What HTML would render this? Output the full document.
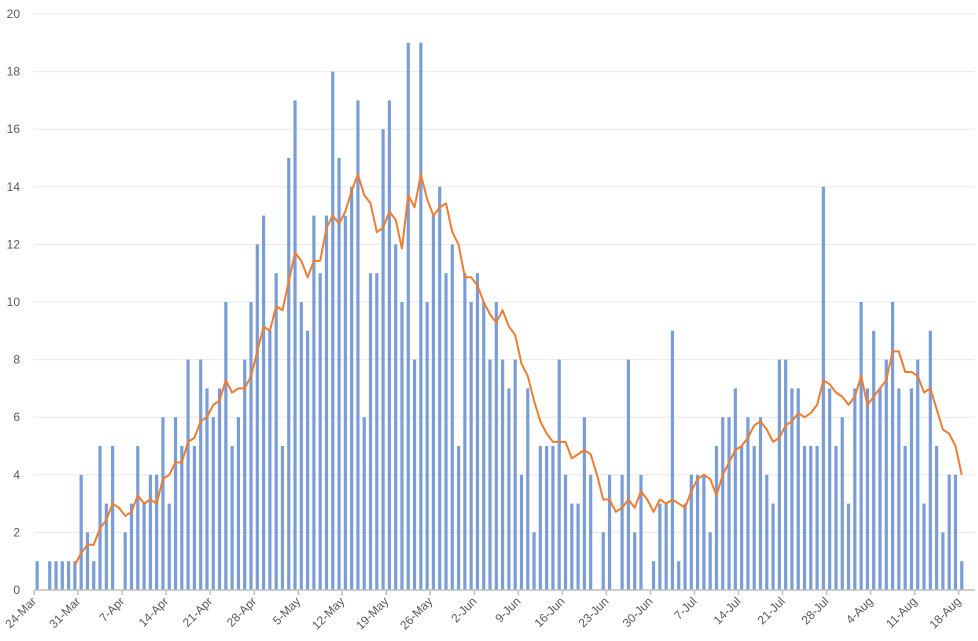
<!DOCTYPE html>
<html><head><meta charset="utf-8"><style>
body{margin:0;background:#fff;}
svg{display:block;font-family:"Liberation Sans",sans-serif;}
</style></head><body>
<svg id="chart" width="978" height="641" viewBox="0 0 978 641" xmlns="http://www.w3.org/2000/svg">
<g id="grid"></g>
<g id="yaxis"></g>
<g id="bars"></g>
<g id="line"></g>
<g id="xaxis"></g>
</svg>
<script>
const dailyCases = [1,0,1,1,1,1,1,4,2,1,5,3,5,0,2,3,5,3,4,4,6,3,6,5,8,5,8,7,6,7,10,5,6,8,10,12,13,9,11,5,15,17,10,9,13,11,13,18,15,13,14,17,6,11,11,16,17,12,10,19,8,19,10,13,14,11,12,5,11,10,11,10,8,10,8,7,8,4,7,2,5,5,5,8,4,3,3,6,4,0,2,4,0,4,8,2,4,0,1,3,3,9,1,3,4,4,4,2,5,6,6,7,5,6,5,6,4,3,8,8,7,7,5,5,5,14,7,5,6,3,7,10,7,9,7,8,10,7,5,7,8,3,9,5,2,4,4,1];
const tickLabels = ["24-Mar","31-Mar","7-Apr","14-Apr","21-Apr","28-Apr","5-May","12-May","19-May","26-May","2-Jun","9-Jun","16-Jun","23-Jun","30-Jun","7-Jul","14-Jul","21-Jul","28-Jul","4-Aug","11-Aug","18-Aug"];
const yTicks = [0,2,4,6,8,10,12,14,16,18,20];
const avgWindow = 7;

const NS="http://www.w3.org/2000/svg";
const plotLeft=34, plotRight=975, plotBottom=590, plotTop=14, yMax=20, cw=6.29;
const yS=v=>plotBottom-(plotBottom-plotTop)*v/yMax;
const xc=i=>plotLeft+cw*(i+0.5);
const xt=i=>plotLeft+cw*i;
function mk(tag,attrs,parent){const e=document.createElementNS(NS,tag);for(const k in attrs)e.setAttribute(k,attrs[k]);parent.appendChild(e);return e;}
const gridG=document.getElementById('grid'),yaG=document.getElementById('yaxis'),barsG=document.getElementById('bars'),lineG=document.getElementById('line'),xaG=document.getElementById('xaxis');
yTicks.forEach(v=>{
  if(v>0){const g=mk('line',{x1:plotLeft,x2:plotRight,y1:yS(v),y2:yS(v),stroke:'#e8e8e8','stroke-width':1},gridG);
  
  }
  const t=mk('text',{x:20,y:yS(v)+4,'text-anchor':'end','font-size':12,fill:'#595959'},yaG);
  t.textContent=v;
  
  
});
dailyCases.forEach((v,i)=>{
  if(v<=0)return;
  const r=mk('rect',{x:xc(i)-1.6,y:yS(v),width:3.2,height:plotBottom-yS(v),fill:'#7b9dd6'},barsG);
  
  
});
const pts=[];
for(let i=avgWindow-1;i<dailyCases.length;i++){
  let s=0;for(let k=i-avgWindow+1;k<=i;k++)s+=dailyCases[k];
  pts.push(xc(i).toFixed(2)+','+yS(s/avgWindow).toFixed(2));
}
const pl=mk('polyline',{points:pts.join(' '),fill:'none',stroke:'#ed7d31','stroke-width':2,'stroke-linejoin':'round'},lineG);


const ax=mk('line',{x1:plotLeft,x2:plotRight,y1:plotBottom,y2:plotBottom,stroke:'#bfbfbf','stroke-width':1.5},xaG);


tickLabels.forEach((lab,k)=>{
  const x=xt(k*7);
  const tk=mk('line',{x1:x,x2:x,y1:plotBottom,y2:plotBottom+5,stroke:'#bfbfbf','stroke-width':1.5},xaG);
  
  
  const t=mk('text',{x:x+3,y:plotBottom+12,'text-anchor':'end','font-size':12,fill:'#595959',transform:'rotate(-45 '+(x+3)+' '+(plotBottom+12)+')'},xaG);
  t.textContent=lab;
  
  
});
</script>
</body></html>
